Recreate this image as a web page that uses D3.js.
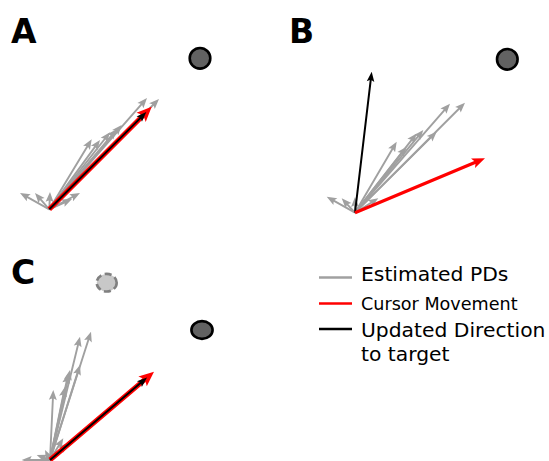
<!DOCTYPE html>
<html>
<head>
<meta charset="utf-8">
<script src="https://cdn.jsdelivr.net/npm/d3@7"></script>
<style>
  html, body { margin: 0; padding: 0; background: #fff; }
  svg { display: block; font-family: "DejaVu Sans", sans-serif; }
</style>
</head>
<body>
<svg id="chart" width="549" height="461"></svg>
<script>
// Vectors are (u, v) components relative to each panel's movement origin.
const panelNames = ["A", "B", "C"];

const pdsA = [
  [9.77, 11.13], [10.97, 11.03], [7.24, 8.43], [6.74, 8.0], [6.07, 7.7],
  [5.07, 6.93], [4.24, 7.0],
  [-2.93, 1.63], [-1.43, 1.63], [0.07, 1.73], [3.07, 1.63], [2.27, 1.03]
];
const cursorA = [10.24, 10.26];
const updatedA = [9.7, 9.72];
const targetA = [15.07, 15.1];

const pdsB = [
  [9.5, 10.9], [11.0, 11.0], [8.17, 8.1], [6.83, 8.27], [6.17, 7.93],
  [5.17, 6.6], [4.17, 7.1],
  [-2.83, 1.6], [-1.33, 1.44], [0.0, 1.57], [2.33, 1.44]
];
const cursorB = [13.0, 5.44];
const updatedB = [1.67, 14.1];
const targetB = [15.23, 15.34];

const pdsC = [
  [3.0, 12.33], [4.1, 12.83], [0.33, 7.0], [1.5, 7.33], [2.0, 9.0],
  [3.0, 9.5], [1.83, 8.67],
  [-2.83, 0.0], [-1.33, 0.5], [-0.5, 1.0], [1.33, 2.17], [1.8, 1.7]
];
const cursorC = [10.4, 8.83];
const updatedC = [9.7, 8.24];
const targetC = [15.2, 13.0];
const previousTargetC = [5.67, 17.73];

const legendLabels = ["Estimated PDs", "Cursor Movement", ["Updated Direction", "to target"]];

const colors = { pd: "#a0a0a0", cursor: "#ff0000", updated: "#000000", target: "#626262", previous: "#c8c8c8" };

const svg = d3.select("#chart");

// Each panel gets its own pair of scales anchored at the movement origin.
function makeScales(ox, oy) {
  return {
    x: d3.scaleLinear().domain([0, 1]).range([ox, ox + 10]),
    y: d3.scaleLinear().domain([0, 1]).range([oy, oy - 10])
  };
}

// Quiver-style arrow: shaft and barbed head as a single polygon.
function arrowPath(x0, y0, x1, y1, w, hl, hw, ha) {
  const dx = x1 - x0, dy = y1 - y0;
  const L = Math.hypot(dx, dy);
  const ux = dx / L, uy = dy / L;
  const nx = -uy, ny = ux;
  const P = (a, b) => [x0 + ux * a + nx * b, y0 + uy * a + ny * b];
  const pts = [
    P(0, w / 2), P(L - ha, w / 2), P(L - hl, hw), P(L, 0),
    P(L - hl, -hw), P(L - ha, -w / 2), P(0, -w / 2)
  ];
  return "M" + pts.map(p => p[0].toFixed(2) + "," + p[1].toFixed(2)).join("L") + "Z";
}

function drawArrow(g, s, vec, color, style) {
  g.append("path")
    .attr("d", arrowPath(s.x(0), s.y(0), s.x(vec[0]), s.y(vec[1]), style.w, style.hl, style.hw, style.ha))
    .attr("fill", color);
}

const thin = { w: 1.9, hl: 10, hw: 4, ha: 8.5 };
const thinBlack = { w: 2.0, hl: 10, hw: 3.8, ha: 8.5 };
const bold = { w: 3.2, hl: 13, hw: 5.2, ha: 11 };
const outline = { w: 5.0, hl: 15, hw: 6.5, ha: 13 };

function drawPanel(origin, pds, cursor, updated, target, opts) {
  const s = makeScales(origin[0], origin[1]);
  const g = svg.append("g");

  if (opts.previous) {
    g.append("ellipse")
      .attr("cx", s.x(opts.previous[0])).attr("cy", s.y(opts.previous[1]))
      .attr("rx", 10).attr("ry", 8.8)
      .attr("fill", colors.previous)
      .attr("stroke", "#808080").attr("stroke-width", 2.6)
      .attr("stroke-dasharray", "7,3.5");
  }

  g.append("ellipse")
    .attr("cx", s.x(target[0])).attr("cy", s.y(target[1]))
    .attr("rx", opts.targetRx).attr("ry", opts.targetRy)
    .attr("fill", colors.target)
    .attr("stroke", "#000").attr("stroke-width", 2.6);

  pds.forEach(v => drawArrow(g, s, v, colors.pd, thin));

  if (opts.overlay) {
    drawArrow(g, s, cursor, colors.cursor, outline);
    drawArrow(g, s, updated, colors.updated, thinBlack);
  } else {
    drawArrow(g, s, updated, colors.updated, thinBlack);
    drawArrow(g, s, cursor, colors.cursor, bold);
  }
}

drawPanel([49.3, 209.3], pdsA, cursorA, updatedA, targetA, { overlay: true, targetRx: 10.3, targetRy: 10.3 });
drawPanel([355, 212.7], pdsB, cursorB, updatedB, targetB, { overlay: false, targetRx: 10.3, targetRy: 10.3 });
drawPanel([50, 460], pdsC, cursorC, updatedC, targetC, { overlay: true, targetRx: 10.6, targetRy: 8.9, previous: previousTargetC });

// Panel letters
const letterPos = [[11, 43], [289, 43], [11, 284]];
svg.selectAll("text.panel")
  .data(panelNames)
  .join("text")
  .attr("class", "panel")
  .attr("x", (d, i) => letterPos[i][0])
  .attr("y", (d, i) => letterPos[i][1])
  .attr("font-size", 33)
  .attr("font-weight", "bold")
  .attr("fill", "#000")
  .text(d => d);

// Legend
const legend = svg.append("g");
const legendItems = [
  { label: legendLabels[0], color: colors.pd, y: 277.5, ty: 281, size: 20.3 },
  { label: legendLabels[1], color: colors.cursor, y: 303.5, ty: 310, size: 17.6 },
  { label: legendLabels[2], color: colors.updated, y: 329, ty: 336.5, size: 20.3 }
];
legendItems.forEach(it => {
  legend.append("line")
    .attr("x1", 319).attr("x2", 352)
    .attr("y1", it.y).attr("y2", it.y)
    .attr("stroke", it.color).attr("stroke-width", 2.6);
  const t = legend.append("text")
    .attr("x", 361).attr("y", it.ty)
    .attr("font-size", it.size)
    .attr("fill", "#000");
  const lines = Array.isArray(it.label) ? it.label : [it.label];
  lines.forEach((ln, i) => {
    t.append("tspan").attr("x", 361).attr("dy", i === 0 ? 0 : 24.5).text(ln);
  });
});
</script>
</body>
</html>
